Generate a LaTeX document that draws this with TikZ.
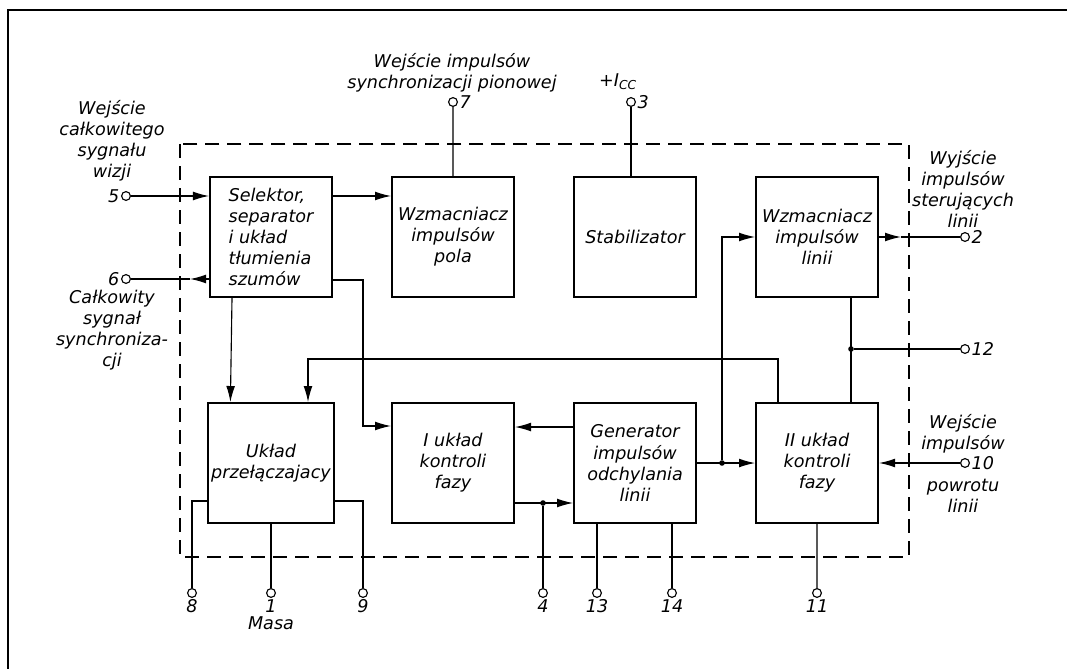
\documentclass[tikz,border=0pt]{standalone}
\usepackage{fontspec}
\setmainfont{DejaVu Sans}
\usetikzlibrary{arrows.meta,positioning}

\begin{document}
\begin{tikzpicture}[
    x=0.025cm, y=-0.025cm,
    node distance=2.6cm and 1.45cm,
    every node/.append style={font=\itshape\fontsize{12.5}{15}\selectfont},
    every label/.style={inner sep=1pt},
    block/.style={draw, line width=1.4pt, minimum width=3.05cm, minimum height=3cm, align=center, inner sep=2pt},
    term/.style={circle, draw, fill=white, line width=0.8pt, minimum size=0.22cm, inner sep=0pt, label distance=1pt},
    junction/.style={circle, fill, minimum size=0.14cm, inner sep=0pt},
    txt/.style={align=center, inner sep=0pt},
    line/.style={-{Latex[length=4mm, width=2.2mm]}, line width=0.8pt},
    wire/.style={line width=0.8pt}
  ]
    \useasboundingbox (0,0) rectangle (1067,669);
    \draw[line width=1.2pt] (8,669) -- (8,10) -- (1067,10);

    % obudowa ukladu
    \draw[line width=1.4pt, dash pattern=on 0.35cm off 0.2cm] (180,144) rectangle (909,557);

    \node[block, align=left] (sel) at (271,237) {Selektor,\\separator\\i układ\\tłumienia\\szumów};
    \node[block, right=of sel] (wzp) {Wzmacniacz\\impulsów\\pola};
    \node[block, right=of wzp] (stab) {Stabilizator};
    \node[block, right=of stab] (wzl) {Wzmacniacz\\impulsów\\linii};
    \node[block, below=of sel] (prz) {Układ\\przełączajacy};
    \node[block, below=of wzp] (ik) {I układ\\kontroli\\fazy};
    \node[block, below=of stab] (gen) {Generator\\impulsów\\odchylania\\linii};
    \node[block, below=of wzl] (iik) {II układ\\kontroli\\fazy};

    % wyprowadzenia
    \node[term, label=left:5] (p5) at (126,196) {};
    \node[term, label=left:6] (p6) at (126,279) {};
    \node[term, label=right:7] (p7) at (453,102) {};
    \node[term, label=right:3] (p3) at (631,102) {};
    \node[term, label=right:2] (p2) at (965,237) {};
    \node[term, label=right:12] (p12) at (965,349) {};
    \node[term, label=right:10] (p10) at (965,463) {};
    \node[term, label=below:8] (p8) at (192,593) {};
    \node[term, label=below:1] (p1) at (271,593) {};
    \node[term, label=below:9] (p9) at (363,593) {};
    \node[term, label=below:4] (p4) at (543,593) {};
    \node[term, label=below:13] (p13) at (597,593) {};
    \node[term, label=below:14] (p14) at (672,593) {};
    \node[term, label=below:11] (p11) at (817,593) {};

    \node[txt] (in5) at (112,141) {Wejście\\całkowitego\\sygnału\\wizji};
    \node[txt] (out6) at (112,330) {Całkowity\\sygnał\\synchroniza-\\cji};
    \node[txt] (in7) at (452,73) {Wejście impulsów\\synchronizacji pionowej};
    \node[txt] (vcc) at (618,82) {+I\textsubscript{CC}};
    \node[txt] (out2) at (963,189) {Wyjście\\impulsów\\sterujących\\linii};
    \node[txt] (in10a) at (963,434) {Wejście\\impulsów};
    \node[txt] (in10b) at (963,496) {powrotu\\linii};
    \node[txt] (masa) at (271,623) {Masa};

    \node[junction] (d4) at (543,503) {};
    \node[junction] (d2) at (722,463) {};
    \node[junction] (d12) at (851,349) {};
    \coordinate (a6) at (190,279);
    \coordinate (a2) at (901,237);
    \coordinate (k1) at (363,426);
    \coordinate (fb) at (308,359);

    \draw[line] (p5) -- (sel.west |- p5);
    \draw[line] (sel.west |- a6) -- (a6);
    \draw[wire] (a6) -- (p6);
    \draw[line] (sel.east |- p5) -- (wzp.west |- p5);
    \draw[wire] (p7) -- (wzp.north);
    \draw[wire] (p3) -- (p3 |- stab.north);
    \draw[line] ([xshift=0.575cm]sel.south west) -- ([xshift=0.575cm]prz.north west);
    \draw[line] ([yshift=0.45cm]sel.south east) -| (k1) -- (k1 -| ik.west);
    \draw[line] ([xshift=0.575cm]iik.north west) |- (fb) -- (fb |- prz.north);
    \draw[line] ([yshift=0.9cm]gen.west) -- ([yshift=0.9cm]ik.east);
    \draw[line] (ik.east |- d4) -- (gen.west |- d4);
    \draw[wire] (d4) -- (p4);
    \draw[line] (gen) -- (iik);
    \draw[line] (d2) |- (wzl.west);
    \draw[line] (wzl.east) -- (a2);
    \draw[wire] (a2) -- (p2);
    \draw[wire] ([xshift=0.85cm]wzl.south) -- ([xshift=0.85cm]iik.north);
    \draw[wire] (d12) -- (p12);
    \draw[line] (p10) -- (iik.east |- p10);
    \draw[wire] ([yshift=-0.95cm]prz.west) -| (p8);
    \draw[wire] (prz.south) -- (p1);
    \draw[wire] ([yshift=-0.95cm]prz.east) -| (p9);
    \draw[wire] (p13 |- gen.south) -- (p13);
    \draw[wire] (p14 |- gen.south) -- (p14);
    \draw[wire] (iik.south) -- (p11);
\end{tikzpicture}
\end{document}
